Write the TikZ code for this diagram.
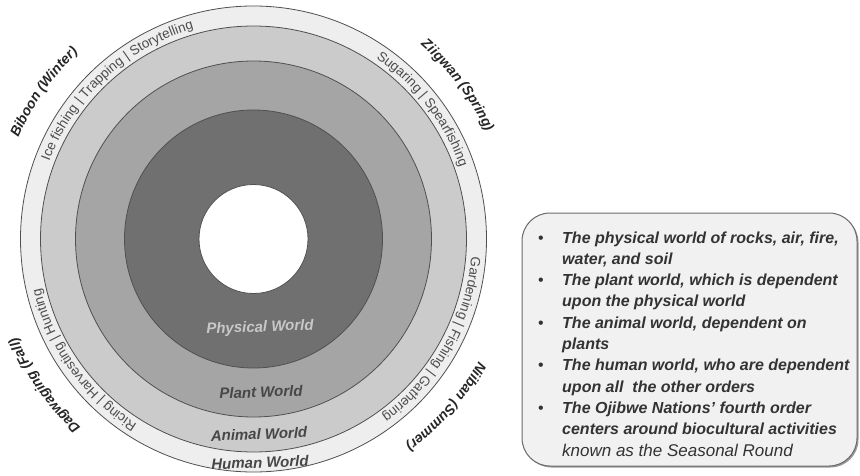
\documentclass[tikz,border=0pt]{standalone}
\usepackage{fontspec}
\setmainfont{Liberation Sans}
\usetikzlibrary{decorations.text}
\definecolor{ringline}{HTML}{505050}
\definecolor{humfill}{HTML}{EEEEEE}
\definecolor{animfill}{HTML}{CBCBCB}
\definecolor{plantfill}{HTML}{A5A5A5}
\definecolor{physfill}{HTML}{707070}
\definecolor{acttext}{HTML}{4D4D4D}
\definecolor{seastext}{HTML}{262626}
\definecolor{labdark}{HTML}{474747}
\definecolor{lablight}{HTML}{C8C8C8}
\definecolor{boxfill}{HTML}{F1F1F1}
\definecolor{boxline}{HTML}{6A6A6A}
\definecolor{boxshade}{HTML}{9A9A9A}
\definecolor{boxtext}{HTML}{333333}
\newcommand\actfont{\fontsize{13.5}{13.5}\selectfont\color{acttext}}
\newcommand\seasfont{\fontsize{14}{14}\selectfont\bfseries\itshape\color{seastext}}
\begin{document}
\begin{tikzpicture}[x=1pt,y=1pt,
  ring/.style={draw=ringline, line width=0.8pt},
  ringlab/.style={inner sep=0pt, font=\fontsize{15}{15}\selectfont\bfseries\itshape},
  bl/.style={anchor=base west, inner sep=0pt, text=boxtext, font=\fontsize{16}{16}\selectfont\bfseries\itshape},
  blreg/.style={anchor=base west, inner sep=0pt, text=boxtext, font=\fontsize{17}{17}\selectfont\itshape},
  bul/.style={anchor=base west, inner sep=0pt, text=boxtext, font=\fontsize{16}{16}\selectfont}]
\useasboundingbox (0,0) rectangle (860,475);
\fill[white] (0,0) rectangle (860,475);
\coordinate (C) at (253.5,236);
% rings
\filldraw[ring, fill=humfill] (C) circle[radius=233];
\filldraw[ring, fill=animfill] (C) circle[radius=213];
\filldraw[ring, fill=plantfill] (C) circle[radius=178];
\filldraw[ring, fill=physfill] (C) circle[radius=129];
\filldraw[ring, fill=white] (C) circle[radius=54.5];
% activities
\path[decorate, decoration={text along path, text format delimiters={[}{]}, text align=center,
  text={[\actfont]Ice fishing | Trapping | Storytelling}}]
  ([shift={(172.5:218.5)}]C) arc[start angle=172.5, end angle=92.5, radius=218.5];
\path[decorate, decoration={text along path, text format delimiters={[}{]}, text align=center,
  text={[\actfont]Sugaring | Spearfishing}}]
  ([shift={(77.5:218.5)}]C) arc[start angle=77.5, end angle=-2.5, radius=218.5];
\path[decorate, decoration={text along path, text format delimiters={[}{]}, text align=center,
  text={[\actfont]Gardening | Fishing | Gathering}}]
  ([shift={(10.7:218.5)}]C) arc[start angle=10.7, end angle=-69.3, radius=218.5];
\path[decorate, decoration={text along path, text format delimiters={[}{]}, text align=center,
  text={[\actfont]Ricing | Harvesting | Hunting}}]
  ([shift={(255.5:218.5)}]C) arc[start angle=255.5, end angle=175.5, radius=218.5];
% seasons
\path[decorate, decoration={text along path, text format delimiters={[}{]}, text align=center,
  text={[\seasfont]Biboon (Winter)}}]
  ([shift={(175:256)}]C) arc[start angle=175, end angle=115, radius=256];
\path[decorate, decoration={text along path, text format delimiters={[}{]}, text align=center,
  text={[\seasfont]Ziigwan (Spring)}}]
  ([shift={(67:256)}]C) arc[start angle=67, end angle=7, radius=256];
\path[decorate, decoration={text along path, text format delimiters={[}{]}, text align=center,
  text={[\seasfont]Niiban (Summer)}}]
  ([shift={(-11:256)}]C) arc[start angle=-11, end angle=-71, radius=256];
\path[decorate, decoration={text along path, text format delimiters={[}{]}, text align=center,
  text={[\seasfont]Dagwaging (Fall)}}]
  ([shift={(245:256)}]C) arc[start angle=245, end angle=185, radius=256];
% ring labels
\node[ringlab, text=lablight, rotate=2] (phys) at (260,147) {Physical World};
\node[ringlab, text=labdark, rotate=2] (plant) at (261,83) {Plant World};
\node[ringlab, text=labdark, rotate=2] (anim) at (259,41) {Animal World};
\node[ringlab, text=labdark, rotate=2] (hum) at (260,12.5) {Human World};
% text box
\fill[boxshade, rounded corners=28] (523.5,7.5) rectangle (858.5,260.5);
\draw[boxline, line width=1pt, fill=boxfill, rounded corners=28] (522,9) rectangle (857,262);
\node[bul] (b1) at (538,232) {•};
\node[bul] (b2) at (538,189.4) {•};
\node[bul] (b3) at (538,146.8) {•};
\node[bul] (b4) at (538,104.2) {•};
\node[bul] (b5) at (538,61.6) {•};
\node[bl] (l1) at (562,232) {The physical world of rocks, air, fire,};
\node[bl] (l2) at (562,210.7) {water, and soil};
\node[bl] (l3) at (562,189.4) {The plant world, which is dependent};
\node[bl] (l4) at (562,168.1) {upon the physical world};
\node[bl] (l5) at (562,146.8) {The animal world, dependent on};
\node[bl] (l6) at (562,125.5) {plants};
\node[bl] (l7) at (562,104.2) {The human world, who are dependent};
\node[bl] (l8) at (562,82.9) {upon all\ \ the other orders};
\node[bl] (l9) at (562,61.6) {The Ojibwe Nations’ fourth order};
\node[bl] (l10) at (562,40.3) {centers around biocultural activities};
\node[blreg] (l11) at (562,19) {known as the Seasonal Round};
\end{tikzpicture}
\end{document}
